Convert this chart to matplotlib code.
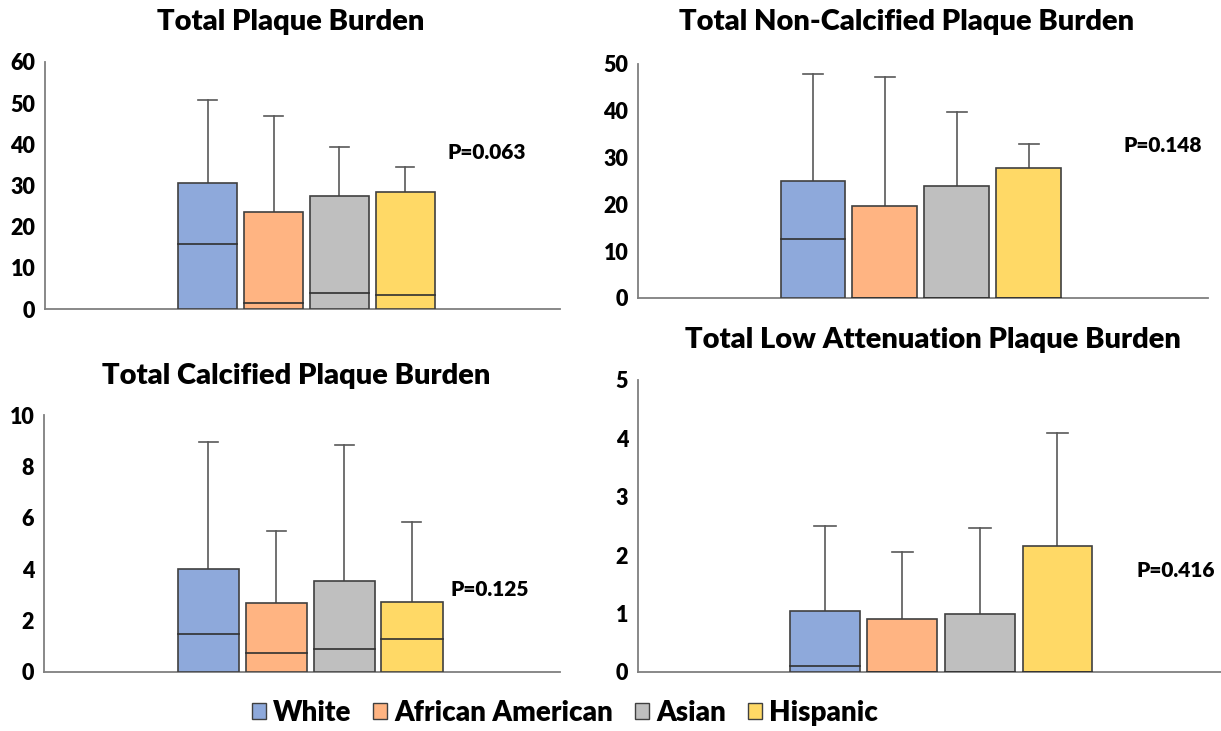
import matplotlib
matplotlib.use("Agg")
import matplotlib.pyplot as plt
from matplotlib.patches import Patch

plt.rcParams['font.family'] = ['Lato', 'DejaVu Sans']
plt.rcParams['font.weight'] = 'heavy'

groups = ['White', 'African American', 'Asian', 'Hispanic']
colors = ['#8EA9DB', '#FFB482', '#BFBFBF', '#FFD966']

titles = ['Total Plaque Burden', 'Total Non-Calcified Plaque Burden',
          'Total Calcified Plaque Burden', 'Total Low Attenuation Plaque Burden']
p_values = ['P=0.063', 'P=0.148', 'P=0.125', 'P=0.416']

# upper quartile (box top), median, maximum (whisker)
q3 = [[30.5, 23.5, 27.5, 28.5],
      [24.9, 19.7, 23.9, 27.7],
      [4.0, 2.69, 3.56, 2.74],
      [1.04, 0.90, 0.99, 2.15]]
median = [[15.8, 1.5, 4.0, 3.3],
          [12.7, 0.0, 0.0, 0.0],
          [1.48, 0.74, 0.91, 1.3],
          [0.10, 0.0, 0.0, 0.0]]
maximum = [[50.8, 46.8, 39.3, 34.6],
           [47.8, 47.3, 39.8, 33.0],
           [8.96, 5.49, 8.83, 5.83],
           [2.50, 2.05, 2.47, 4.10]]

y_max = [60, 50, 10, 5]
y_step = [10, 10, 2, 1]

W, H = 1221, 731
# axes boxes in pixels: left, right, bottom, top
boxes = [(45, 560, 309, 62), (638, 1208, 298, 64),
         (44, 560, 672, 415), (638, 1221, 672, 380)]
xlims = [(-2.47, 5.35), (-2.43, 5.49), (-2.42, 5.18), (-2.41, 5.11)]
bar_w = [0.9, 0.9, 0.9, 0.9]
p_pos = [(3.64, 38.0), (4.31, 32.5), (3.57, 3.2), (4.02, 1.74)]
title_pos = [(291, 22), (907, 22), (296, 376), (933, 340)]

fig = plt.figure(figsize=(W / 100, H / 100), dpi=100)

for i in range(4):
    l, r, b, t = boxes[i]
    ax = fig.add_axes([l / W, 1 - b / H, (r - l) / W, (b - t) / H])
    x = range(len(groups))
    ax.bar(x, q3[i], width=bar_w[i], color=colors, edgecolor='#404040',
           linewidth=1.2, zorder=3)
    for j in x:
        hw = bar_w[i] / 2
        ax.plot([j - hw, j + hw], [median[i][j]] * 2, color='#303030', lw=1.2, zorder=4)
        ax.plot([j, j], [q3[i][j], maximum[i][j]], color='#595959', lw=1.2, zorder=2)
        ax.plot([j - 0.14, j + 0.14], [maximum[i][j]] * 2, color='#595959', lw=1.2, zorder=2)
    ax.set_xlim(*xlims[i])
    ax.set_ylim(0, y_max[i])
    ax.set_yticks(range(0, y_max[i] + 1, y_step[i]))
    ax.set_xticks([])
    ax.tick_params(axis='y', length=0, pad=7, labelsize=15.5)
    for s in ['top', 'right']:
        ax.spines[s].set_visible(False)
    for s in ['left', 'bottom']:
        ax.spines[s].set_color('#7f7f7f')
        ax.spines[s].set_linewidth(1.3)
    ax.text(p_pos[i][0], p_pos[i][1], p_values[i], fontsize=15,
            fontweight='heavy', va='center', ha='left')
    fig.text(title_pos[i][0] / W, 1 - title_pos[i][1] / H, titles[i],
             fontsize=21, fontweight='heavy', ha='center', va='center')

handles = [Patch(facecolor=c, edgecolor='#404040', label=g) for c, g in zip(colors, groups)]
fig.legend(handles=handles, loc='center', bbox_to_anchor=(565 / W, 1 - 713 / H),
           ncol=4, frameon=False, fontsize=20, handlelength=0.5, handleheight=0.5,
           handletextpad=0.25, columnspacing=0.8)

fig.savefig('out.png', dpi=100)
